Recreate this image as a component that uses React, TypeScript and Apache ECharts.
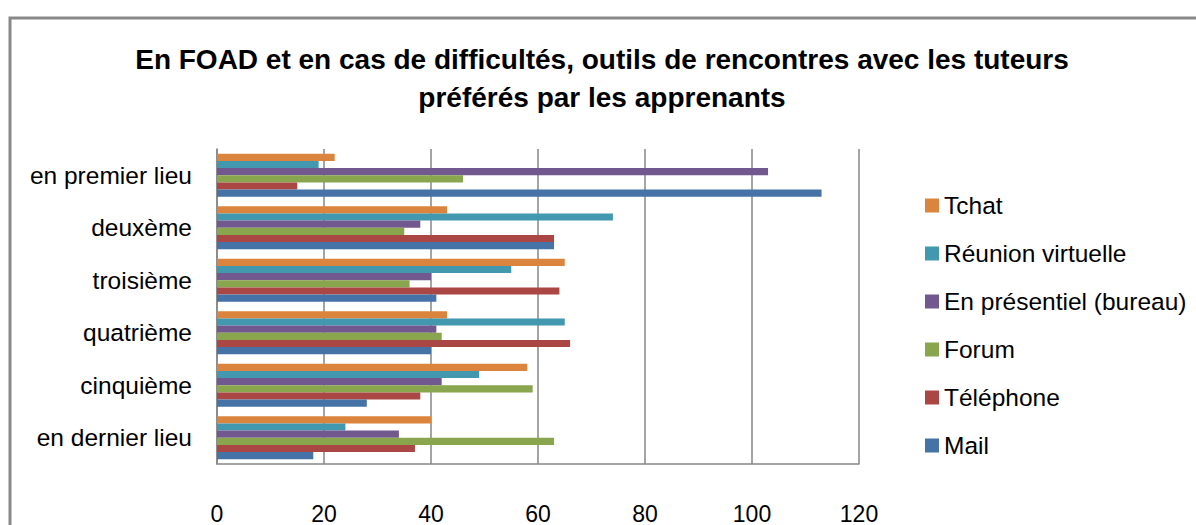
import React, { useEffect, useRef } from "react";
import * as echarts from "echarts";

const categories = ["en dernier lieu", "cinquième", "quatrième", "troisième", "deuxème", "en premier lieu"];
const mail = [18, 28, 40, 41, 63, 113];
const telephone = [37, 38, 66, 64, 63, 15];
const forum = [63, 59, 42, 36, 35, 46];
const presentiel = [34, 42, 41, 40, 38, 103];
const reunion = [24, 49, 65, 55, 74, 19];
const tchat = [40, 58, 43, 65, 43, 22];
const xTicks = { min: 0, max: 120, interval: 20 };
const titleText = "En FOAD et en cas de difficultés, outils de rencontres avec les tuteurs\npréférés par les apprenants";

// order top-to-bottom within each group (ECharts draws first series at top for horizontal bars)
const seriesDefs = [
  { name: "Tchat", data: tchat, color: "#DB843D" },
  { name: "Réunion virtuelle", data: reunion, color: "#4198AF" },
  { name: "En présentiel (bureau)", data: presentiel, color: "#71588F" },
  { name: "Forum", data: forum, color: "#89A54E" },
  { name: "Téléphone", data: telephone, color: "#AA4643" },
  { name: "Mail", data: mail, color: "#4572A7" },
];

const FONT = "'Liberation Sans', Arial, sans-serif";

export default function App() {
  const ref = useRef<HTMLDivElement>(null);
  useEffect(() => {
    document.body.style.margin = "0";
    if (!ref.current) return;
    const chart = echarts.init(ref.current, null, { renderer: "svg" });
    chart.setOption({
      animation: false,
      backgroundColor: "#ffffff",
      title: {
        text: titleText,
        left: 597,
        top: 35,
        textAlign: "center",
        textStyle: {
          fontFamily: FONT,
          fontSize: 28,
          fontWeight: "bold",
          color: "#000",
          lineHeight: 38,
        },
      },
      legend: {
        orient: "vertical",
        left: 920,
        top: 188,
        itemWidth: 14,
        itemHeight: 14,
        itemGap: 23,
        icon: "rect",
        data: seriesDefs.map((s) => s.name),
        textStyle: { fontFamily: FONT, fontSize: 24.5, color: "#000", lineHeight: 24 },
      },
      grid: { left: 217, right: 337, top: 149, bottom: 50, containLabel: false },
      xAxis: {
        type: "value",
        min: xTicks.min,
        max: xTicks.max,
        interval: xTicks.interval,
        axisLine: { show: true, lineStyle: { color: "#868686", width: 1.5 } },
        axisTick: { show: false },
        splitLine: { show: true, lineStyle: { color: "#868686", width: 1.5 } },
        axisLabel: { fontFamily: FONT, fontSize: 23, color: "#000", margin: 38 },
      },
      yAxis: {
        type: "category",
        data: categories,
        axisLine: { show: true, lineStyle: { color: "#868686", width: 1.5 } },
        axisTick: { show: false },
        axisLabel: { fontFamily: FONT, fontSize: 24.5, color: "#000", margin: 25 },
      },
      graphic: [
        {
          type: "rect",
          shape: { x: 10, y: 18, width: 1400, height: 700 },
          style: { fill: "none", stroke: "#898989", lineWidth: 3 },
          silent: true,
        },
      ],
      series: seriesDefs.map((s) => ({
        name: s.name,
        type: "bar",
        data: s.data,
        barGap: 0,
        barCategoryGap: "18%",
        itemStyle: { color: s.color },
      })),
    });
    return () => chart.dispose();
  }, []);
  return <div ref={ref} style={{ width: 1196, height: 525 }} />;
}
